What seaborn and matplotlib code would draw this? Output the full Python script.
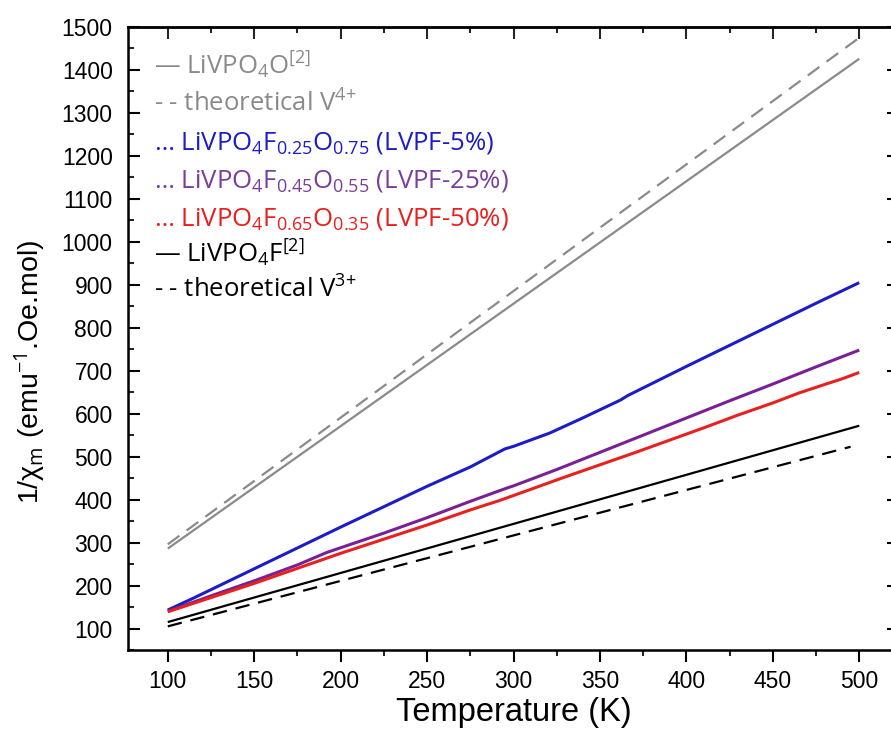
import matplotlib
matplotlib.use("Agg")
import matplotlib.pyplot as plt
import seaborn as sns
import pandas as pd
from matplotlib.ticker import MultipleLocator

# ---------------- data ----------------
t_livpo4o = [100, 500]
y_livpo4o = [286, 1426]

t_theo_v4 = [100, 500]
y_theo_v4 = [296, 1475]

t_livpo4f = [100, 500]
y_livpo4f = [115, 572]

t_theo_v3 = [100, 495]
y_theo_v3 = [105, 523]

t_lvpf5 = [100, 115, 150, 200, 250, 275, 295, 300, 321, 340, 362, 366, 400,
           425, 450, 475, 500]
y_lvpf5 = [143, 171, 239, 336, 431, 476, 518, 524, 555, 590, 632, 642, 710,
           759, 808, 857, 905]

t_lvpf25 = [100, 125, 150, 175, 192, 200, 225, 250, 275, 290, 297, 300, 325,
            350, 375, 400, 425, 450, 475, 500]
y_lvpf25 = [140, 176, 211, 248, 277, 288, 322, 358, 396, 418, 428, 432, 470,
            510, 550, 590, 630, 669, 709, 748]

t_lvpf50 = [100, 125, 150, 175, 200, 225, 250, 275, 292, 310, 330, 350, 370,
            390, 410, 430, 450, 465, 480, 490, 500]
y_lvpf50 = [139, 172, 205, 240, 275, 308, 341, 376, 398, 424, 453, 481, 509,
            538, 567, 597, 625, 648, 668, 681, 696]

x_ticks = [100, 150, 200, 250, 300, 350, 400, 450, 500]
y_ticks = list(range(100, 1501, 100))

legend_labels = [
    "\u2014 LiVPO$_4$O$^{[2]}$",
    "- - theoretical V$^{4{+}}$",
    "\u2026 LiVPO$_4$F$_{0.25}$O$_{0.75}$ (LVPF-5%)",
    "\u2026 LiVPO$_4$F$_{0.45}$O$_{0.55}$ (LVPF-25%)",
    "\u2026 LiVPO$_4$F$_{0.65}$O$_{0.35}$ (LVPF-50%)",
    "\u2014 LiVPO$_4$F$^{[2]}$",
    "- - theoretical V$^{3{+}}$",
]

# ---------------- style ----------------
sns.set_theme(style="ticks")
plt.rcParams["font.family"] = ["Liberation Sans", "DejaVu Sans"]
plt.rcParams["mathtext.fontset"] = "custom"
plt.rcParams["mathtext.rm"] = "Open Sans"
plt.rcParams["mathtext.it"] = "Open Sans:italic"
plt.rcParams["mathtext.bf"] = "Open Sans:bold"

GRAY = "#8a8a8a"
BLUE = "#1c1cc8"
PURPLE = "#7a1f96"
RED = "#e8201e"
BLACK = "#000000"
LEG_PURPLE = "#7a3f9c"

W, H = 891, 738
fig = plt.figure(figsize=(W / 100, H / 100), dpi=100)
ax = fig.add_axes([128 / W, 1 - 650 / H, 771 / W, 623 / H])

def draw(t, y, color, lw, dashes=None):
    df = pd.DataFrame({"T": t, "v": y})
    sns.lineplot(data=df, x="T", y="v", color=color, linewidth=lw, ax=ax,
                 sort=False, estimator=None)
    line = ax.lines[-1]
    if dashes is not None:
        line.set_dashes(dashes)
    line.set_solid_capstyle("butt")

draw(t_theo_v4, y_theo_v4, GRAY, 1.6, (6.5, 4))
draw(t_livpo4o, y_livpo4o, GRAY, 1.6)
draw(t_lvpf5, y_lvpf5, BLUE, 2.2)
draw(t_lvpf25, y_lvpf25, PURPLE, 2.2)
draw(t_lvpf50, y_lvpf50, RED, 2.2)
draw(t_livpo4f, y_livpo4f, BLACK, 1.6)
draw(t_theo_v3, y_theo_v3, BLACK, 1.6, (6.5, 4))

ax.set_xlim(77, 523)
ax.set_ylim(50, 1500)
ax.set_xticks(x_ticks)
ax.set_yticks(y_ticks)
ax.xaxis.set_minor_locator(MultipleLocator(25))
ax.yaxis.set_minor_locator(MultipleLocator(50))

for s in ax.spines.values():
    s.set_linewidth(1.8)
    s.set_color("black")

ax.tick_params(axis="x", which="major", direction="out", length=8.5, width=1.5,
               labelsize=16.5, pad=6, colors="black", top=False)
ax.tick_params(axis="x", which="minor", direction="out", length=4.5, width=1.5,
               top=False)
ax.tick_params(axis="y", which="major", direction="in", length=8.5, width=1.5,
               labelsize=16.5, pad=11, right=True, colors="black")
ax.tick_params(axis="y", which="minor", direction="in", length=4.5, width=1.5,
               right=True)

# top axis ticks pointing inward
top = ax.secondary_xaxis("top")
top.set_xticks(x_ticks)
top.xaxis.set_minor_locator(MultipleLocator(25))
top.tick_params(which="major", direction="in", length=8.5, width=1.5,
                labeltop=False)
top.tick_params(which="minor", direction="in", length=4.5, width=1.5)
top.spines["top"].set_linewidth(1.8)

ax.set_xlabel("Temperature (K)", fontsize=23.5, color="black")
ax.set_ylabel("1/\u03c7$_\\mathrm{m}$ (emu$^{-1}$.Oe.mol)", fontsize=20.5,
              color="black")
ax.xaxis.set_label_coords(0.5, -0.075)
ax.yaxis.set_label_coords(-0.105, 0.446)

# text legend
leg_colors = [GRAY, GRAY, BLUE, LEG_PURPLE, RED, BLACK, BLACK]
leg_y = [74, 112, 150, 188, 225, 262, 298]
for lab, c, py in zip(legend_labels, leg_colors, leg_y):
    fig.text(154 / W, 1 - py / H, lab, color=c, fontsize=18.5,
             family=["Open Sans", "DejaVu Sans"], va="baseline", ha="left")

fig.savefig("out.png", dpi=100)
